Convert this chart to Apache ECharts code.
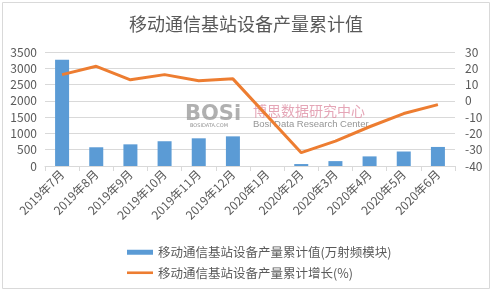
<!DOCTYPE html>
<html><head><meta charset="utf-8">
<script src="https://cdn.jsdelivr.net/npm/echarts@6/dist/echarts.min.js"></script>
<style>html,body{margin:0;padding:0;background:#fff}#c{width:492px;height:291px}</style>
</head><body><div id="c"></div>
<script>
var categories = ['2019年7月','2019年8月','2019年9月','2019年10月','2019年11月','2019年12月','2020年1月','2020年2月','2020年3月','2020年4月','2020年5月','2020年6月'];
var outputValues = [3260, 575, 665, 760, 850, 910, null, 60, 150, 295, 445, 585];
var growthValues = [16.1, 21.2, 12.9, 16.1, 12.4, 13.5, null, -31.8, -24.7, -15.9, -7.8, -2.3];
var leftTicks = [0, 3500, 500];
var rightTicks = [-40, 30, 10];
var titleText = '移动通信基站设备产量累计值';
var seriesNames = ['移动通信基站设备产量累计值(万射频模块)', '移动通信基站设备产量累计增长(%)'];

var chart = echarts.init(document.getElementById('c'), null, {renderer: 'canvas'});
var font = '"Microsoft YaHei","Noto Sans CJK SC",sans-serif';
chart.setOption({
  animation: false,
  title: {text: titleText, left: 'center', top: 10, textStyle: {fontSize: 18, fontWeight: 'normal', color: '#595959', fontFamily: font}},
  grid: {left: 45, right: 37, top: 52, bottom: 125},
  legend: {
    orient: 'vertical', left: 122, top: 241, itemGap: 8, itemWidth: 26, itemHeight: 5,
    textStyle: {fontSize: 12.5, color: '#595959', fontFamily: font},
    data: [{name: seriesNames[0], icon: 'rect'}, {name: seriesNames[1], icon: 'path://M0,0H30V3H0Z'}]
  },
  xAxis: {
    type: 'category', data: categories,
    axisLine: {lineStyle: {color: '#d9d9d9'}},
    axisTick: {show: true, lineStyle: {color: '#d9d9d9'}},
    axisLabel: {rotate: 45, interval: 0, fontSize: 12, color: '#595959', fontFamily: font, margin: 6}
  },
  yAxis: [{
    type: 'value', min: leftTicks[0], max: leftTicks[1], interval: leftTicks[2],
    axisLine: {show: false}, axisTick: {show: false},
    axisLabel: {fontSize: 12, color: '#595959', fontFamily: font, margin: 8, formatter: function (v) { return String(v); }},
    splitLine: {lineStyle: {color: '#d9d9d9'}}
  }, {
    type: 'value', min: rightTicks[0], max: rightTicks[1], interval: rightTicks[2],
    axisLine: {show: false}, axisTick: {show: false},
    axisLabel: {fontSize: 12, color: '#595959', fontFamily: font, margin: 10, formatter: function (v) { return String(v); }},
    splitLine: {show: false}
  }],
  series: [{
    name: seriesNames[0], type: 'bar', data: outputValues, barWidth: 14,
    itemStyle: {color: '#5B9BD5'}
  }, {
    name: seriesNames[1], type: 'line', yAxisIndex: 1, data: growthValues, connectNulls: true,
    symbol: 'none', showSymbol: false, lineStyle: {color: '#ED7D31', width: 3}, itemStyle: {color: '#ED7D31'}, z: 5
  }],
  graphic: [
    {type: 'rect', shape: {x: 2.5, y: 2.5, width: 487, height: 286}, style: {fill: 'none', stroke: '#d9d9d9', lineWidth: 1}, z: -1},
    {type: 'text', left: 185, top: 104, style: {text: 'BOSi', fontSize: 21, fontWeight: 'bold', fill: 'rgba(150,150,150,0.75)', fontFamily: 'DejaVu Sans'}, z: 1},
    {type: 'text', left: 190, top: 123, style: {text: 'BOSIDATA.COM', fontSize: 5, fill: 'rgba(120,120,120,0.8)', fontFamily: 'DejaVu Sans'}, z: 1},
    {type: 'text', left: 253, top: 104, style: {text: '博思数据研究中心', fontSize: 14, fill: 'rgba(225,150,170,0.85)', fontFamily: font}, z: 1},
    {type: 'text', left: 253, top: 119, style: {text: 'Bosi Data Research Center', fontSize: 9.5, fill: 'rgba(130,130,130,0.85)', fontFamily: 'Liberation Sans'}, z: 1}
  ]
});
</script></body></html>
